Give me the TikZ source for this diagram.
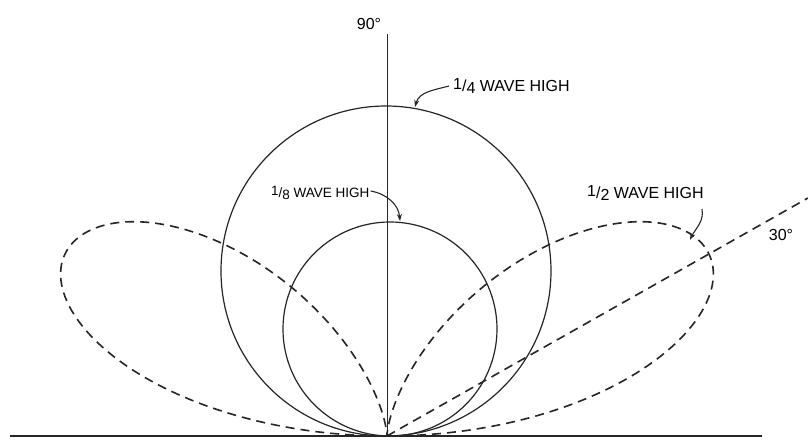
\documentclass[tikz,border=0pt]{standalone}
\usepackage{fontspec}
\setmainfont{Liberation Sans}
\usetikzlibrary{arrows.meta}
\newcommand{\myfr}[2]{\raisebox{0.3ex}{#1}/\raisebox{-0.2ex}{#2}}
\begin{document}
\begin{tikzpicture}[x=1pt,y=1pt,
  solidline/.style={line width=1.2pt, black!85},
  dashline/.style={line width=1.6pt, black!85, dash pattern=on 9pt off 6pt},
  lbl/.style={font=\fontsize{16}{16}\selectfont, inner sep=0pt, anchor=west},
  lblsmall/.style={font=\fontsize{13.5}{13.5}\selectfont, inner sep=0pt, anchor=west},
  pointer/.style={line width=1.1pt, black!85, -{Stealth[length=7pt,width=5pt]}}]
\useasboundingbox (-387,-4) rectangle (421,436);
\fill[white] (-387,-4) rectangle (421,436);
% ground and vertical axis
\coordinate (O) at (0,0);
\coordinate (gl) at (-377,0);
\coordinate (gr) at (375,0);
\coordinate (vt) at (0,402);
\draw[solidline] (gl) -- (gr);
\draw[line width=1pt, black!85] (O) -- (vt);
% 1/4 wave pattern
\draw[solidline] (-1,165) circle[radius=165];
% 1/8 wave pattern
\draw[solidline] (3,107) circle[radius=107];
% 1/2 wave pattern
\draw[dashline] plot[domain=0:180, samples=240, smooth]
  ({370*sin(180*sin(\x))*cos(\x)}, {370*sin(180*sin(\x))*sin(\x)});
% 30 degree line
\coordinate (l30) at (421,238);
\draw[dashline] (O) -- (l30);
% labels
\node[font=\fontsize{16}{16}\selectfont, inner sep=0pt] (n90) at (-18,412) {90°};
\node[lbl] (q) at (66,350) {\myfr{1}{4} WAVE HIGH};
\node[lblsmall] (e) at (-116,243) {\myfr{1}{8} WAVE HIGH};
\node[lbl] (h) at (200,243) {\myfr{1}{2} WAVE HIGH};
\node[font=\fontsize{16}{16}\selectfont, inner sep=0pt] (n30) at (394,201) {30°};
% pointers
\coordinate (qa) at (28,329);
\coordinate (ea) at (13,215);
\coordinate (ha) at (303,196);
\draw[pointer] ([xshift=-4pt]q.west) to[out=195,in=75] (qa);
\draw[pointer] ([xshift=1pt,yshift=2pt]e.east) to[out=-10,in=95] (ea);
\draw[pointer] (315,227) to[out=-80,in=65] (ha);
\end{tikzpicture}
\end{document}
